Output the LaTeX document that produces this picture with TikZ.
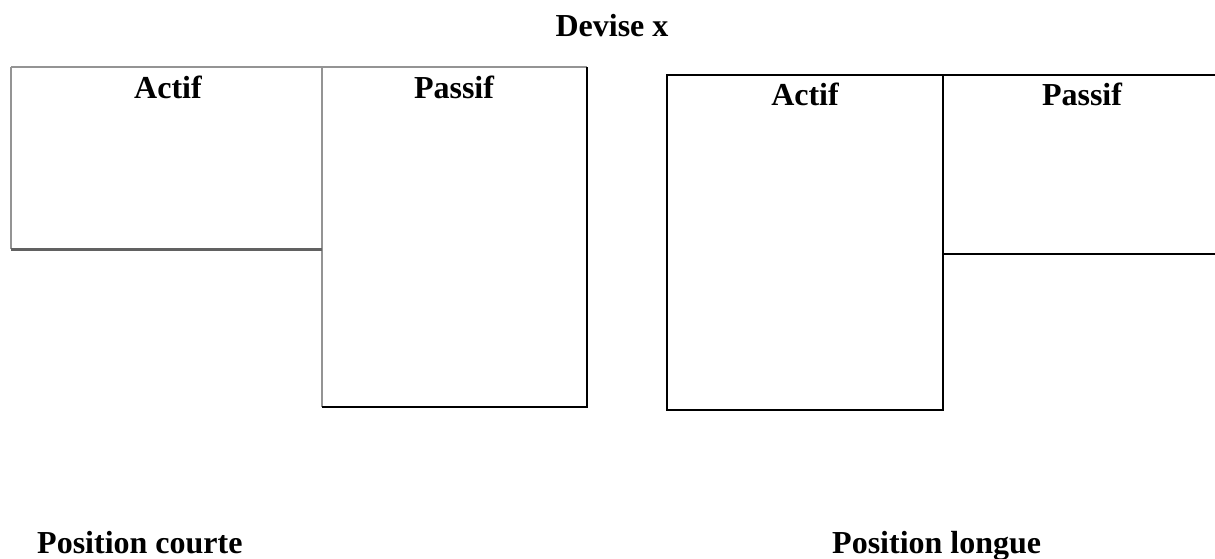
\documentclass[tikz,border=0pt]{standalone}
\usepackage{fontspec}
\setmainfont{Liberation Serif}
\begin{document}
\begin{tikzpicture}[x=1pt,y=-1pt,
  lbl/.style={font=\fontsize{32}{38}\selectfont\bfseries, inner sep=0pt, anchor=base},
  grayline/.style={draw=black!42, line width=2pt},
  darkline/.style={draw=black!62, line width=3pt},
  blackline/.style={draw=black, line width=2pt}]
\useasboundingbox (0,0) rectangle (1215,558);

% title
\node[lbl] (title) at (612,36) {Devise x};

% short position: corners
\coordinate (sTL) at (11,67);
\coordinate (sTR) at (587,67);
\coordinate (sML) at (11,249);
\coordinate (sMM) at (322,249);
\coordinate (sTM) at (322,67);
\coordinate (sBM) at (322,407);
\coordinate (sBR) at (587,407);

\draw[grayline] (sTL) -- (sTR);
\draw[grayline] (sTL) -- (sML);
\draw[grayline] (sTM) -- (sBM);
\draw[darkline] (sML) -- (sMM);
\draw[blackline, line join=miter] (sTR) -- (sBR) -- (sBM);

\node[lbl] (sA) at (168,98) {Actif};
\node[lbl] (sP) at (454,98) {Passif};

% long position: corners
\coordinate (lTL) at (667,75);
\coordinate (lTM) at (943,75);
\coordinate (lTR) at (1215,75);
\coordinate (lBL) at (667,410);
\coordinate (lBM) at (943,410);
\coordinate (lMM) at (943,254);
\coordinate (lMR) at (1215,254);

\draw[blackline] (lTL) rectangle (lBM);
\draw[blackline] (lTM) -- (lTR);
\draw[blackline] (lMM) -- (lMR);

\node[lbl] (lA) at (805,105) {Actif};
\node[lbl] (lP) at (1082,105) {Passif};

% captions
\node[lbl, anchor=base west] (court) at (37,553) {Position courte};
\node[lbl, anchor=base west] (long) at (832,553) {Position longue};
\end{tikzpicture}
\end{document}
